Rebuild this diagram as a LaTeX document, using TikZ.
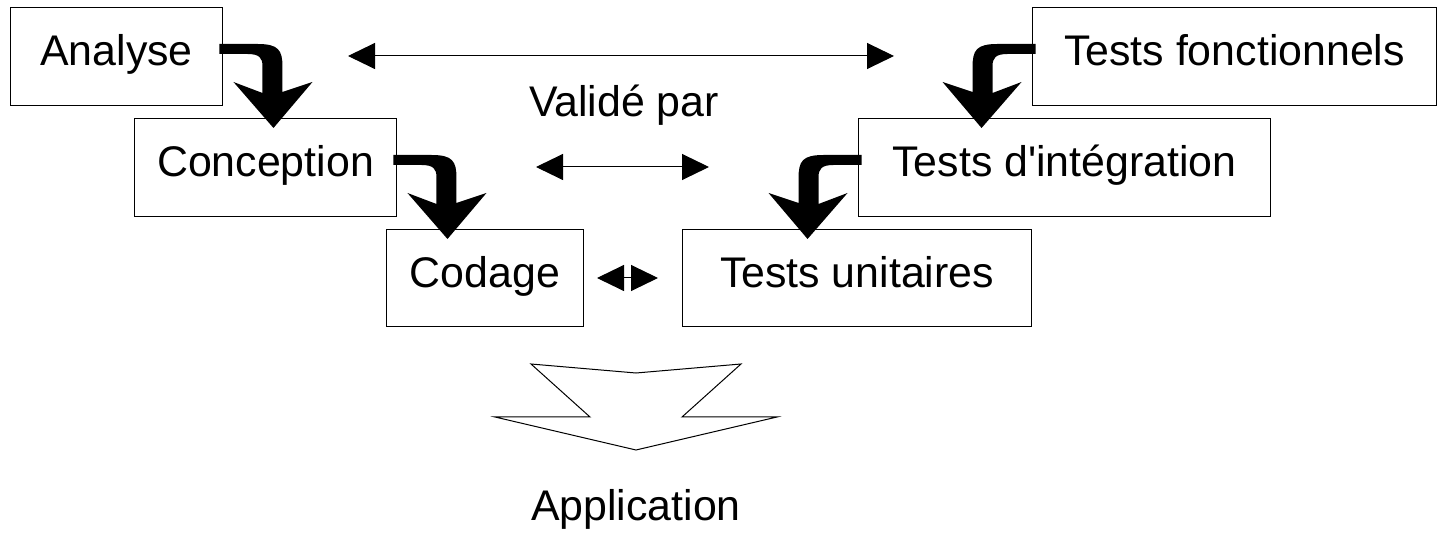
\documentclass[tikz,border=0pt]{standalone}
\usepackage{fontspec}
\newfontfamily\labfont{Liberation Sans}
\usetikzlibrary{arrows.meta}
\begin{document}
\begin{tikzpicture}[x=0.02cm,y=-0.02cm,
  lbl/.style={font=\labfont\fontsize{24.4}{29}\selectfont, inner sep=0pt},
  box/.style={lbl, draw, line width=0.02cm, text height=0.62cm, text depth=0.24cm},
  validation/.style={line width=0.02cm,
    {Triangle[length=0.54cm,width=0.52cm]}-{Triangle[length=0.54cm,width=0.52cm]}},
  bendarrow/.pic={
    \fill (0,-5) -- (38,-5) .. controls (59,-5) and (63,1) .. (63,18)
      -- (63,43) -- (93,33) -- (54,79) -- (14,33) -- (43,44) -- (43,17)
      .. controls (43,9) and (40,5) .. (28,5) -- (0,5) -- cycle;
  }]
\useasboundingbox (0,0) rectangle (1439,536);

% descending branch
\node[box, minimum width=4.26cm, minimum height=1.98cm] (analyse) at (116.5,56.5) {Analyse};
\node[box, minimum width=5.26cm, minimum height=1.98cm] (conception) at (265.5,167.5) {Conception};
\node[box, minimum width=3.96cm, minimum height=1.96cm] (codage) at (485,278) {Codage};

% ascending branch
\node[box, minimum width=7.0cm, minimum height=1.96cm] (unitaires) at (857,278) {Tests unitaires};
\node[box, minimum width=8.26cm, minimum height=1.98cm] (integration) at (1064.5,167.5) {Tests d'intégration};
\node[box, minimum width=8.1cm, minimum height=1.98cm] (fonctionnels) at (1234.5,56.5) {Tests fonctionnels};

% bent arrows between consecutive phases
\pic (a1) at ([shift={(-4,-7.5)}]analyse.east) {bendarrow};
\pic (a2) at ([shift={(-4,-7.5)}]conception.east) {bendarrow};
\pic[xscale=-1] (a3) at ([shift={(4,-7.5)}]fonctionnels.west) {bendarrow};
\pic[xscale=-1] (a4) at ([shift={(4,-7.5)}]integration.west) {bendarrow};

% validation links
\coordinate (v1l) at (348,56);  \coordinate (v1r) at (894,56);
\coordinate (v2l) at (536,167); \coordinate (v2r) at (709,167);
\coordinate (v3l) at (597,278); \coordinate (v3r) at (658,278);
\draw[validation] (v1l) -- (v1r);
\draw[validation] (v2l) -- (v2r);
\draw[validation] (v3l) -- (v3r);
\node[lbl, anchor=base] (valide) at (624,117) {Validé par};

% result
\draw[line width=0.02cm] (531,364) -- (636,373) -- (741,364) -- (682,417)
  -- (777,417) -- (636,450) -- (495,417) -- (590,417) -- cycle;
\node[lbl, anchor=base] (application) at (636,520) {Application};
\end{tikzpicture}
\end{document}
